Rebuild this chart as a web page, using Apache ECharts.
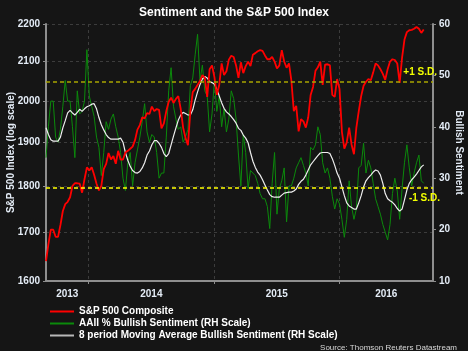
<!DOCTYPE html>
<html>
<head>
<meta charset="utf-8">
<script src="https://cdn.jsdelivr.net/npm/echarts@6/dist/echarts.min.js"></script>
<style>
  html, body { margin: 0; padding: 0; background: #151515; }
  #chart { width: 468px; height: 351px; }
</style>
</head>
<body>
<div id="chart"></div>
<script>
// weekly readings, first week ending 2013-08-30
const firstWeek = Date.UTC(2013, 7, 30)
const axisStart = Date.UTC(2013, 7, 30)
const axisEnd = Date.UTC(2016, 8, 29)

const yearLabels = ['2013', '2014', '2015', '2016']
const yearStarts = [Date.UTC(2014, 0, 1), Date.UTC(2015, 0, 1), Date.UTC(2016, 0, 1)]
const spxTicks = [1600, 1700, 1800, 1900, 2000, 2100, 2200]
const sentimentTicks = [10, 20, 30, 40, 50, 60]
const sdLevels = [48.7, 28.1] // +1 S.D. / -1 S.D.

// S&P 500 Composite
const spx = [
  1640, 1675, 1705, 1705, 1690, 1690, 1715, 1745, 1760, 1765,
  1775, 1800, 1806, 1806, 1805, 1785, 1815, 1842, 1835, 1842,
  1825, 1805, 1790, 1800, 1838, 1850, 1875, 1860, 1868, 1850,
  1880, 1860, 1860, 1876, 1880, 1885, 1890, 1905, 1930, 1941,
  1960, 1957, 1970, 1968, 1986, 1975, 1980, 1978, 1933, 1945,
  1975, 1998, 2008, 1995, 2005, 2012, 1980, 1935, 1910, 1893,
  1975, 2022, 2030, 2040, 2050, 2065, 2058, 2010, 2080, 2090,
  2060, 2015, 2040, 2095, 2065, 2075, 2105, 2115, 2112, 2090,
  2058, 2098, 2070, 2088, 2100, 2088, 2118, 2122, 2127, 2130,
  2128, 2116, 2106, 2106, 2112, 2100, 2082, 2090, 2130, 2100,
  2084, 2095, 2050, 1975, 1988, 1926, 1955, 1950, 1935, 1960,
  2015, 2035, 2076, 2085, 2100, 2040, 2092, 2093, 2090, 2015,
  2010, 2055, 2030, 1925, 1885, 1900, 1935, 1895, 1872, 1935,
  1975, 2012, 2038, 2048, 2055, 2052, 2072, 2095, 2090, 2080,
  2068, 2053, 2080, 2100, 2106, 2104, 2095, 2045, 2110, 2158,
  2178, 2183, 2184, 2187, 2192, 2187, 2176, 2185
]

// AAII % bullish
const bullish = [
  34, 40, 45, 45, 38, 37, 39.5, 44, 49, 45,
  45, 40, 34, 47, 42.5, 43, 45, 55, 46, 44,
  42, 38, 36, 30.5, 35, 41, 39.5, 41.5, 42.5, 40,
  38, 35, 30, 27.6, 33, 35, 28.5, 33, 35.5, 38,
  41, 44.5, 39, 37, 38.5, 38, 35, 30, 31, 31,
  38, 47, 51.5, 44, 41.5, 39.5, 40, 37, 38, 39.5,
  48, 49.5, 54, 58, 49, 52, 47, 46, 39, 42.5,
  49, 43, 46, 40, 43.5, 39, 41.5, 47, 45.5, 41.5,
  34.5, 28.5, 38.5, 35, 28, 31.5, 31, 30.5, 29, 27,
  26, 26, 24.5, 20.2, 29, 35, 23, 28, 29.5, 32,
  21.5, 28.5, 28.5, 30, 32, 33, 34, 32.5, 31, 28.5,
  36, 35.5, 36.5, 40, 38.5, 33, 31, 32, 30, 26.5,
  24, 26, 25, 22, 18.5, 22, 29.5, 24.5, 22, 24,
  32, 32.5, 36.8, 31, 33.5, 32, 29, 26, 24.5, 23,
  21, 19.5, 18, 21, 27, 30, 27.5, 22, 28, 33,
  36.5, 32, 28.5, 31, 33, 34.5, 29.5, 29
]

// 8 period moving average
const bullishMA = [
  39.8, 38.5, 37.5, 37.2, 37.2, 37.2, 38, 39.8, 41.2, 42.7,
  43.2, 42.7, 42.3, 42.8, 43.4, 43, 43.5, 43.9, 44.1, 44.4,
  44.5, 43.5, 41.8, 40.4, 39.4, 38.5, 37.9, 37.6, 37.6, 37.6,
  37.6, 37.8, 37, 35, 33.5, 32.3, 31.5, 31.1, 31, 31.3,
  32, 33, 34.5, 35.3, 36.5, 37.3, 37.3, 36.8, 36, 34.8,
  34.2, 34.8, 36.5, 38.2, 39.8, 41.3, 42.3, 42.8, 42.6, 42.3,
  42.3, 43.3, 45.2, 46.8, 48.2, 49.3, 49.8, 49.5, 48.8, 48.6,
  48.3, 47.3, 46, 44.7, 43.6, 42.9, 42.5, 42, 41.4, 40.7,
  39.7, 39.3, 38.4, 37.8, 36.9, 35, 33.3, 32.1, 31.2, 30.6,
  29.7, 28.7, 27.7, 26.8, 26.4, 26.3, 26.3, 26.3, 26.7, 27.1,
  27.2, 27.3, 27.3, 27.5, 27.9, 28.8, 29.4, 29.8, 30.6, 31.6,
  32.6, 33.2, 33.8, 34.4, 34.9, 35, 35, 35, 34.8, 33.8,
  32.5, 31, 30, 28.3, 26.6, 25.2, 24.6, 24.3, 24, 24,
  25.2, 26.6, 28.3, 29.5, 30.1, 30.6, 31.2, 31.6, 31.4, 30.6,
  29, 27, 26, 25.6, 25.3, 24.8, 24.1, 23.6, 24, 25.8,
  27.7, 29, 29.7, 30.2, 30.8, 31.5, 32.2, 32.6
]

const WEEK = 7 * 24 * 3600 * 1000
const weeks = spx.map((v, i) => firstWeek + i * WEEK)
const pairs = arr => arr.map((v, i) => [weeks[i], v])

// year labels sit in the middle of each year's span
const bounds = [axisStart].concat(yearStarts, [axisEnd])
const yearMids = yearLabels.map((y, i) => (bounds[i] + bounds[i + 1]) / 2)

const font = 'Liberation Sans, Arial, sans-serif'
const labelColor = '#e4ecf6'
const axisGrey = '#8e8e8e'
const gridGrey = '#3c3c3c'

let option = {
  backgroundColor: '#151515',
  animation: false,
  textStyle: { fontFamily: font },
  title: [
    {
      text: 'Sentiment and the S&P 500 Index',
      left: 'center',
      top: 2,
      textStyle: { color: '#ffffff', fontSize: 12, fontWeight: 'bold', fontFamily: font },
    },
    {
      text: 'Source: Thomson Reuters Datastream',
      right: 6,
      top: 339,
      textStyle: { color: '#d8d8d8', fontSize: 8, fontWeight: 'normal', fontFamily: font },
    },
  ],
  grid: { left: 46, right: 35, top: 24, bottom: 70, outerBoundsMode: 'none', containLabel: false },
  legend: {
    orient: 'vertical',
    left: 45,
    top: 301,
    icon: 'rect',
    itemWidth: 24,
    itemHeight: 2,
    itemGap: 1,
    data: ['S&P 500 Composite', 'AAII % Bullish Sentiment (RH Scale)', '8 period Moving Average Bullish Sentiment (RH Scale)'],
    textStyle: { color: '#ffffff', fontSize: 10, fontWeight: 'bold', fontFamily: font, lineHeight: 11 },
  },
  xAxis: {
    type: 'value',
    min: axisStart,
    max: axisEnd,
    axisLine: { lineStyle: { color: axisGrey, width: 2 } },
    axisTick: { customValues: yearStarts, length: 3, lineStyle: { color: axisGrey } },
    axisLabel: {
      customValues: yearMids,
      formatter: v => yearLabels[yearMids.indexOf(v)] || '',
      color: labelColor,
      fontSize: 10,
      fontWeight: 'bold',
      margin: 8,
    },
    splitLine: { show: true, lineStyle: { color: gridGrey, type: [3, 3] } },
  },
  yAxis: [
    {
      // visible left scale, laid out in log space
      type: 'value',
      position: 'left',
      min: Math.log(spxTicks[0]),
      max: Math.log(spxTicks[spxTicks.length - 1]),
      name: 'S&P 500 Index (log scale)',
      nameLocation: 'middle',
      nameRotate: 90,
      nameGap: 30,
      nameMoveOverlap: false,
      nameTextStyle: { color: labelColor, fontSize: 10, fontWeight: 'bold' },
      axisLine: { show: true, lineStyle: { color: axisGrey, width: 2 } },
      axisTick: { show: true, customValues: spxTicks.map(Math.log), length: 3, lineStyle: { color: axisGrey } },
      axisLabel: {
        customValues: spxTicks.map(Math.log),
        formatter: v => Math.round(Math.exp(v)),
        color: labelColor,
        fontSize: 10,
        fontWeight: 'bold',
        margin: 6,
      },
      splitLine: { show: true, lineStyle: { color: gridGrey, type: [3, 3] } },
    },
    {
      // log axis that actually carries the S&P series
      type: 'log',
      min: spxTicks[0],
      max: spxTicks[spxTicks.length - 1],
      show: false,
      splitLine: { show: false },
    },
    {
      type: 'value',
      position: 'right',
      min: sentimentTicks[0],
      max: sentimentTicks[sentimentTicks.length - 1],
      interval: 10,
      name: 'Bullish Sentiment',
      nameLocation: 'middle',
      nameRotate: -90,
      nameGap: 21,
      nameMoveOverlap: false,
      nameTextStyle: { color: labelColor, fontSize: 10, fontWeight: 'bold' },
      axisLine: { show: true, lineStyle: { color: axisGrey, width: 2 } },
      axisTick: { show: true, length: 3, lineStyle: { color: axisGrey } },
      axisLabel: { color: labelColor, fontSize: 10, fontWeight: 'bold', margin: 6 },
      splitLine: { show: false },
    },
  ],
  series: [
    {
      name: 'AAII % Bullish Sentiment (RH Scale)',
      type: 'line',
      yAxisIndex: 2,
      data: pairs(bullish),
      showSymbol: false,
      color: '#0b8a0b',
      lineStyle: { width: 1, color: '#0b8a0b' },
      markLine: {
        silent: true,
        symbol: 'none',
        lineStyle: { type: [4, 3], width: 1.5 },
        data: [
          {
            yAxis: sdLevels[0],
            lineStyle: { color: '#a8a400' },
            label: { formatter: '+1 S.D.', position: 'insideEndTop', distance: [-4, 5] },
          },
          {
            yAxis: sdLevels[1],
            lineStyle: { color: '#ffff00' },
            label: { formatter: '-1 S.D.', position: 'insideEndBottom', distance: [-7, 5] },
          },
        ],
        label: { color: '#f2ff00', fontSize: 10, fontWeight: 'bold', fontFamily: font },
      },
    },
    {
      name: '8 period Moving Average Bullish Sentiment (RH Scale)',
      type: 'line',
      yAxisIndex: 2,
      data: pairs(bullishMA),
      showSymbol: false,
      color: '#b8b8b8',
      lineStyle: { width: 1.2, color: '#eeeeee' },
    },
    {
      name: 'S&P 500 Composite',
      type: 'line',
      yAxisIndex: 1,
      data: pairs(spx),
      showSymbol: false,
      color: '#ff0000',
      lineStyle: { width: 1.8, color: '#ff0000' },
    },
  ],
}

const myChart = echarts.init(document.getElementById('chart'))
myChart.setOption(option)
</script>
</body>
</html>
